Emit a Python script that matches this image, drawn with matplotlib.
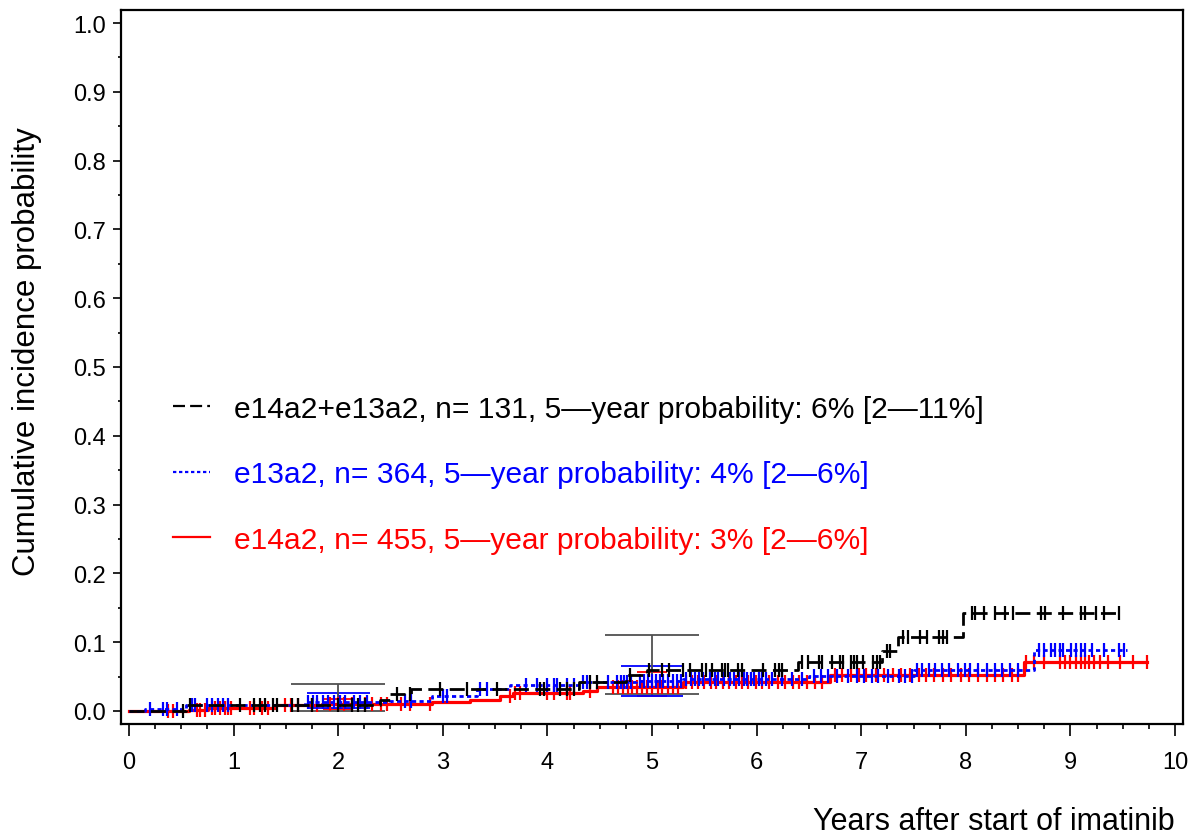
import numpy as np
import matplotlib
matplotlib.use("Agg")
import matplotlib.pyplot as plt
from matplotlib.lines import Line2D
from matplotlib.ticker import MultipleLocator, FormatStrFormatter

plt.rcParams['font.family'] = ['Liberation Sans', 'DejaVu Sans']

# ---------------- data ----------------
black_times = [0, 0.55, 2.4, 2.5, 2.7, 4.3, 4.75, 4.95, 6.4, 7.2, 7.35, 7.97]
black_vals = [0, 0.008, 0.016, 0.025, 0.032, 0.042, 0.052, 0.060, 0.071, 0.087, 0.107, 0.143]
black_end = 9.47
black_censor = [0.52, 0.58, 1.06, 1.2, 1.25, 1.3, 1.38, 1.42, 1.56, 1.62, 1.75, 2.0, 2.13,
                2.19, 2.26, 2.56, 2.69, 2.97, 3.23, 3.52, 3.93, 3.97, 4.12, 4.19, 4.25,
                4.41, 4.47, 4.79, 4.97, 5.1, 5.16, 5.3, 5.36, 5.48, 5.52, 5.57, 5.67, 5.7,
                5.73, 5.82, 5.86, 6.06, 6.18, 6.21, 6.24, 6.43, 6.49, 6.6, 6.63, 6.72, 6.8,
                6.83, 6.9, 6.93, 6.96, 7.02, 7.11, 7.15, 7.18, 7.25, 7.28, 7.4, 7.45, 7.56,
                7.63, 7.74, 7.78, 7.82, 8.06, 8.09, 8.17, 8.28, 8.37, 8.45, 8.72, 8.76,
                8.93, 9.1, 9.14, 9.24, 9.32, 9.46]

blue_times = [0, 0.15, 0.55, 1.68, 2.5, 2.9, 3.33, 3.64, 4.31, 4.85, 5.3, 6.5, 7.5, 8.65]
blue_vals = [0, 0.003, 0.008, 0.013, 0.015, 0.022, 0.032, 0.037, 0.042, 0.044, 0.047, 0.051, 0.059, 0.088]
blue_end = 9.54
blue_censor = [0.2, 0.33, 0.36, 0.46, 0.6, 0.63, 0.75, 0.79, 0.85, 0.9, 0.95, 1.71, 1.76,
               1.8, 1.86, 1.9, 1.96, 2.02, 2.07, 2.15, 2.21, 2.28, 2.64, 2.7, 3.0, 3.04,
               3.36, 3.42, 3.8, 3.9, 4.0, 4.06, 4.09, 4.19, 4.25, 4.34, 4.38, 4.58, 4.67,
               4.7, 4.73, 4.76, 4.8, 4.89, 4.92, 4.96, 5.0, 5.04, 5.08, 5.11, 5.15, 5.2,
               5.24, 5.28, 5.33, 5.37, 5.41, 5.45, 5.49, 5.55, 5.6, 5.63, 5.69, 5.75,
               5.78, 5.83, 5.88, 5.91, 5.95, 5.98, 6.02, 6.05, 6.09, 6.15, 6.24, 6.34,
               6.43, 6.55, 6.62, 6.68, 6.77, 6.87, 6.96, 7.03, 7.1, 7.16, 7.26, 7.36,
               7.42, 7.49, 7.53, 7.58, 7.65, 7.71, 7.77, 7.84, 7.93, 7.99, 8.04, 8.12,
               8.2, 8.28, 8.35, 8.42, 8.5, 8.7, 8.75, 8.81, 8.85, 8.9, 8.93, 9.01, 9.05,
               9.1, 9.14, 9.21, 9.32, 9.46, 9.51]

red_times = [0, 0.57, 0.76, 1.4, 1.85, 2.9, 3.26, 3.55, 3.67, 4.34, 4.47, 5.3, 6.7, 8.56]
red_vals = [0, 0.002, 0.004, 0.008, 0.010, 0.013, 0.016, 0.022, 0.026, 0.029, 0.035, 0.042, 0.052, 0.071]
red_end = 9.73
red_censor = [0.37, 0.42, 0.65, 0.68, 0.73, 0.79, 0.82, 0.87, 0.92, 0.95, 0.98, 1.16, 1.2,
              1.27, 1.33, 1.49, 1.55, 1.62, 1.75, 1.8, 1.92, 2.0, 2.06, 2.13, 2.26, 2.32,
              2.41, 2.47, 2.6, 2.69, 2.88, 3.64, 3.69, 3.74, 4.0, 4.06, 4.19, 4.22, 4.41,
              4.63, 4.68, 4.72, 4.77, 4.81, 4.86, 4.9, 4.95, 5.0, 5.06, 5.1, 5.15, 5.2,
              5.25, 5.33, 5.38, 5.44, 5.5, 5.56, 5.61, 5.68, 5.74, 5.8, 5.86, 5.92, 5.99,
              6.05, 6.12, 6.2, 6.27, 6.35, 6.41, 6.48, 6.56, 6.63, 6.75, 6.82, 6.9, 6.98,
              7.05, 7.14, 7.22, 7.3, 7.38, 7.47, 7.55, 7.62, 7.7, 7.78, 7.86, 7.95, 8.03,
              8.12, 8.2, 8.28, 8.36, 8.44, 8.5, 8.58, 8.65, 8.75, 8.9, 8.95, 9.0, 9.05,
              9.1, 9.14, 9.18, 9.23, 9.28, 9.36, 9.47, 9.6, 9.73]

ci_times = [2, 5]
black_ci_low = [0.0, 0.025]
black_ci_high = [0.039, 0.110]
blue_ci_low = [0.004, 0.022]
blue_ci_high = [0.026, 0.065]
red_ci_low = [0.003, 0.022]
red_ci_high = [0.018, 0.057]

labels = ["e14a2+e13a2, n= 131, 5\u2014year probability: 6% [2\u201411%]",
          "e13a2, n= 364, 5\u2014year probability: 4% [2\u20146%]",
          "e14a2, n= 455, 5\u2014year probability: 3% [2\u20146%]"]

x_ticks = list(range(0, 11))
y_ticks = [0.0, 0.1, 0.2, 0.3, 0.4, 0.5, 0.6, 0.7, 0.8, 0.9, 1.0]

# ---------------- figure ----------------
fig = plt.figure(figsize=(11.93, 8.37), dpi=100)
ax = fig.add_axes([0.1014, 0.1338, 0.8902, 0.8531])


def step_value(times, vals, t):
    idx = np.searchsorted(np.asarray(times), np.asarray(t), side='right') - 1
    return np.asarray(vals)[idx]


BLACK_LS = (0, (5.4, 2.3))
BLUE_LS = (0, (1.5, 1.2))

series = [
    dict(times=red_times, vals=red_vals, end=red_end, cens=red_censor, color='#FF0000',
         ls='-', lw=2.3, ci=(red_ci_low, red_ci_high), cap=0.14, cicolor='#FF0000'),
    dict(times=blue_times, vals=blue_vals, end=blue_end, cens=blue_censor, color='#0000FF',
         ls=BLUE_LS, lw=2.0, ci=(blue_ci_low, blue_ci_high), cap=0.30, cicolor='#0000FF'),
    dict(times=black_times, vals=black_vals, end=black_end, cens=black_censor, color='#000000',
         ls=BLACK_LS, lw=2.0, ci=(black_ci_low, black_ci_high), cap=0.45, cicolor='#505050'),
]

for s in series:
    xs = list(s['times']) + [s['end']]
    ys = list(s['vals']) + [s['vals'][-1]]
    ax.step(xs, ys, where='post', color=s['color'], linestyle=s['ls'], linewidth=s['lw'], zorder=3)
    cy = step_value(s['times'], s['vals'], s['cens'])
    ax.plot(s['cens'], cy, linestyle='none', marker='|', markersize=9.5,
            markeredgewidth=1.6, color=s['color'], zorder=3)
    lo, hi = s['ci']
    ct = np.asarray(ci_times, dtype=float)
    ax.vlines(ct, lo, hi, color=s['cicolor'], linewidth=1.3, zorder=2)
    ax.hlines(lo, ct - s['cap'], ct + s['cap'], color=s['cicolor'], linewidth=1.3, zorder=2)
    ax.hlines(hi, ct - s['cap'], ct + s['cap'], color=s['cicolor'], linewidth=1.3, zorder=2)

ax.set_xlim(-0.076, 10.076)
ax.set_ylim(-0.019, 1.019)
ax.set_xticks(x_ticks)
ax.set_yticks(y_ticks)
ax.xaxis.set_minor_locator(MultipleLocator(0.25))
ax.yaxis.set_minor_locator(MultipleLocator(0.05))
ax.yaxis.set_major_formatter(FormatStrFormatter('%.1f'))
ax.tick_params(axis='x', which='major', direction='out', length=8.5, width=1.2, pad=11, labelsize=17)
ax.tick_params(axis='x', which='minor', direction='out', length=3.5, width=1.2)
ax.tick_params(axis='y', which='major', direction='out', length=5.5, width=1.2, pad=5.5, labelsize=17)
ax.tick_params(axis='y', which='minor', direction='out', length=2.5, width=1.2)
for sp in ax.spines.values():
    sp.set_linewidth(1.6)

fig.text(1175 / 1193, 1 - 822 / 837, "Years after start of imatinib", ha='right', va='center',
         fontsize=22)
fig.text(27 / 1193, 1 - 352 / 837, "Cumulative incidence probability", ha='center', va='center',
         rotation=90, fontsize=22.5)

handles = [Line2D([], [], color='#000000', linestyle=BLACK_LS, linewidth=1.6),
           Line2D([], [], color='#0000FF', linestyle=BLUE_LS, linewidth=1.6),
           Line2D([], [], color='#FF0000', linestyle='-', linewidth=1.6)]
leg = ax.legend(handles, labels, loc='center left', bbox_to_anchor=(0.049, 0.350),
                frameon=False, fontsize=21.6, handlelength=1.22, handletextpad=0.8,
                labelspacing=1.25, borderpad=0, borderaxespad=0)
for txt, c in zip(leg.get_texts(), ['#000000', '#0000FF', '#FF0000']):
    txt.set_color(c)

fig.savefig('out.png', dpi=100)
